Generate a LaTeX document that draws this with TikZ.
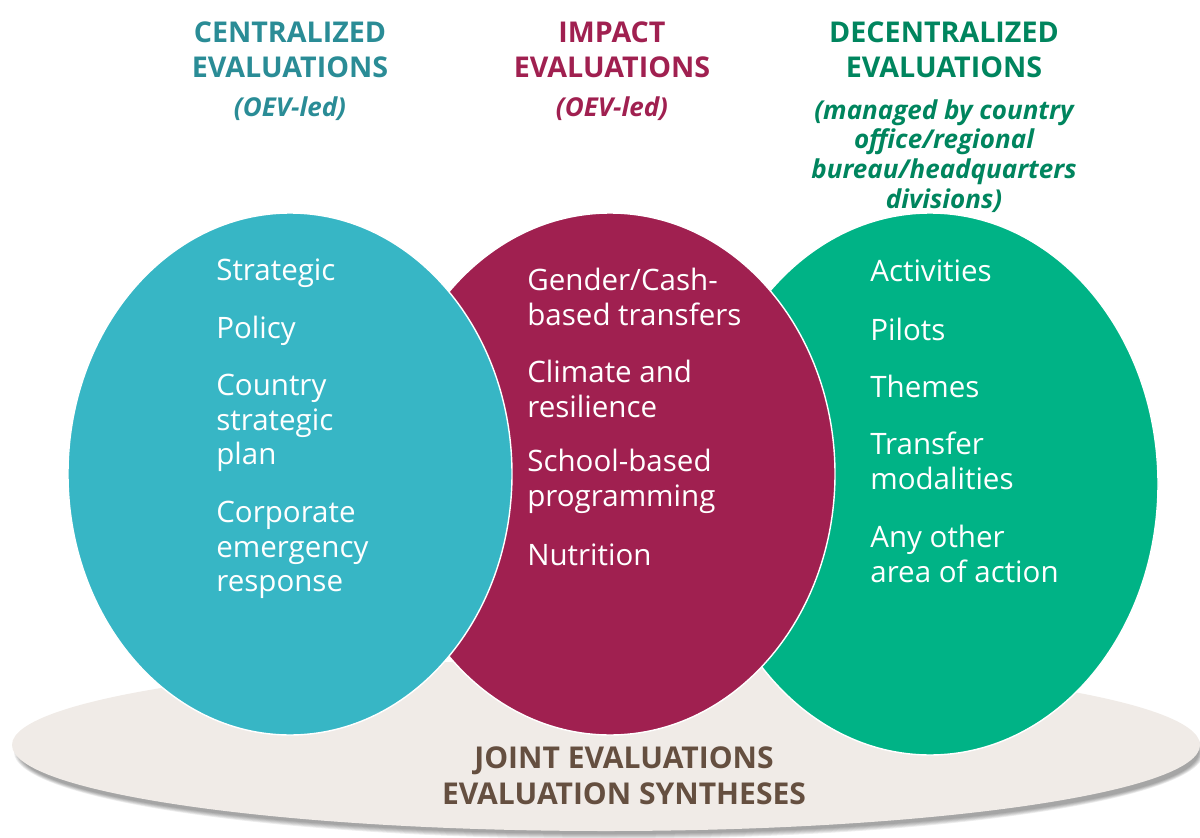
\documentclass[tikz,border=0pt]{standalone}
\usepackage{fontspec}
\setmainfont{Open Sans}
\definecolor{cblue}{HTML}{37B6C5}
\definecolor{cbluetxt}{HTML}{2A8C96}
\definecolor{cred}{HTML}{A02050}
\definecolor{cgreen}{HTML}{00B386}
\definecolor{cgreentxt}{HTML}{00855E}
\definecolor{cbase}{HTML}{F0EBE7}
\definecolor{cbrown}{HTML}{654F40}
\begin{document}
\begin{tikzpicture}[x=0.02cm, y=-0.02cm]
	\tikzstyle{item} = [anchor=west, align=left, inner sep=0, text=white, font=\fontsize{16.8}{19.8}\selectfont]
	\tikzstyle{head} = [align=center, inner sep=0, font=\fontsize{16.3}{19.8}\selectfont\bfseries]
	\tikzstyle{sub} = [align=center, inner sep=0, font=\fontsize{14.8}{17}\selectfont\bfseries\itshape]
	\tikzstyle{blob} = [draw=white, line width=0.8pt]
	\useasboundingbox (0,0) rectangle (1200,838);
	% base and its soft shadow
	\foreach \s in {0,...,5}
		\fill[black, opacity=0.07] (609,752) ellipse [x radius=590+\s, y radius=82+\s];
	\fill[cbase] (606,745) ellipse [x radius=594, y radius=86];
	% the three circles, back to front
	\path[blob, fill=cgreen] (930,484) ellipse [x radius=228, y radius=271];
	\path[blob, fill=cred] (610,474) ellipse [x radius=225, y radius=261];
	\path[blob, fill=cblue] (290,474) ellipse [x radius=222, y radius=261];
	% headings
	\node[head, text=cbluetxt](hc) at (290,50) {CENTRALIZED\\EVALUATIONS};
	\node[sub, text=cbluetxt](sc) at (290,109) {(OEV-led)};
	\node[head, text=cred](hi) at (612,50) {IMPACT\\EVALUATIONS};
	\node[sub, text=cred](si) at (612,109) {(OEV-led)};
	\node[head, text=cgreentxt](hd) at (944,50) {DECENTRALIZED\\EVALUATIONS};
	\node[sub, text=cgreentxt](sd) at (944,156) {(managed by country\\office/regional\\bureau/headquarters\\divisions)};
	% centralized
	\node[item](c1) at (216,273) {Strategic};
	\node[item](c2) at (216,331) {Policy};
	\node[item](c3) at (216,423) {Country\\strategic\\plan};
	\node[item](c4) at (216,550) {Corporate\\emergency\\response};
	% impact
	\node[item](i1) at (527,297) {Gender/Cash-\\based transfers};
	\node[item](i2) at (527,389) {Climate and\\resilience};
	\node[item](i3) at (527,481) {School-based\\programming};
	\node[item](i4) at (527,555) {Nutrition};
	% decentralized
	\node[item](d1) at (870,271) {Activities};
	\node[item](d2) at (870,329) {Pilots};
	\node[item](d3) at (870,386) {Themes};
	\node[item](d4) at (870,461) {Transfer\\modalities};
	\node[item](d5) at (870,554) {Any other\\area of action};
	% joint
	\node[head, text=cbrown, font=\fontsize{17.1}{20.4}\selectfont\bfseries](j) at (624,776) {JOINT EVALUATIONS\\EVALUATION SYNTHESES};
\end{tikzpicture}
\end{document}
